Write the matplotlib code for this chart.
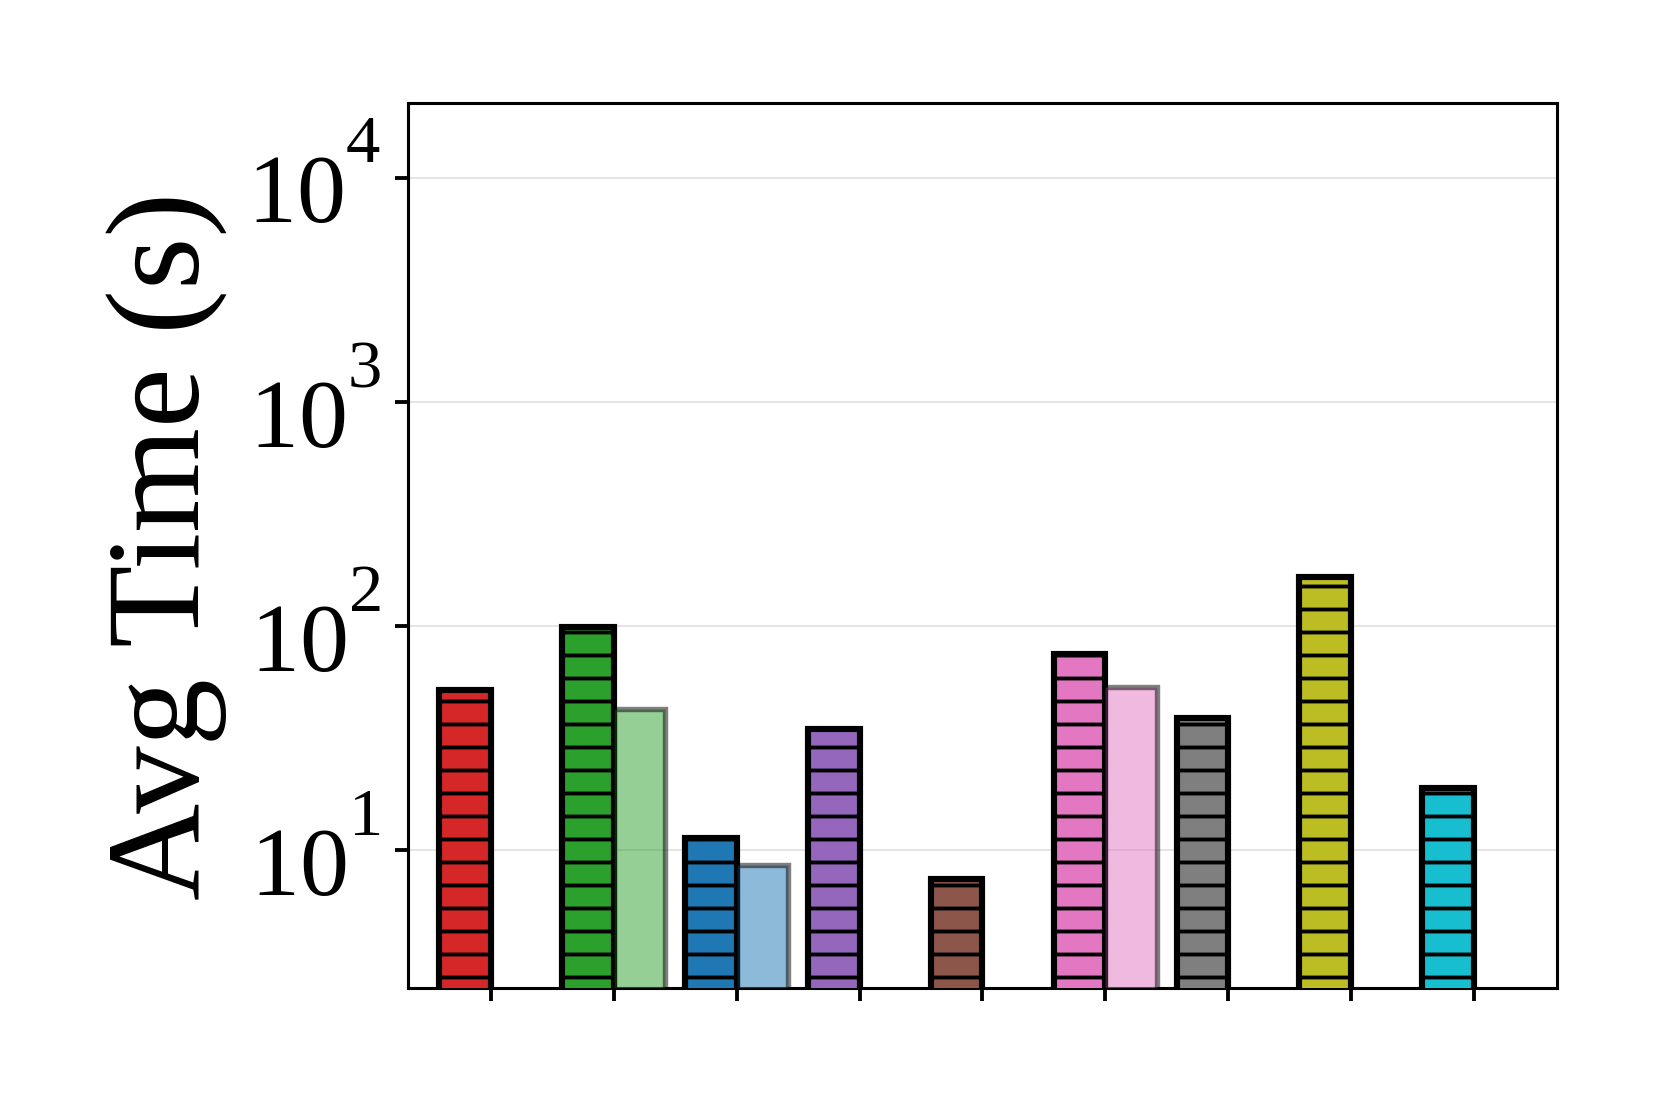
import matplotlib
matplotlib.use("Agg")
import matplotlib.pyplot as plt
from matplotlib import _mathtext
from matplotlib.ticker import NullLocator
import numpy as np

plt.rcParams['font.family'] = ['Liberation Serif', 'DejaVu Serif']
plt.rcParams['mathtext.fontset'] = 'custom'
plt.rcParams['mathtext.rm'] = 'Liberation Serif'
plt.rcParams['hatch.linewidth'] = 1.0
# raise the exponents like Times New Roman does (its pclt xHeight is large)
_mathtext.FontConstantsBase.sup1 = 1.33
_mathtext.FontConstantsBase.script_space = 0.1

# one hatched bar per method, some have a second (lighter) bar next to it
colors = ['tab:red', 'tab:green', 'tab:blue', 'tab:purple', 'tab:brown',
          'tab:pink', 'tab:gray', 'tab:olive', 'tab:cyan']
main_vals = [51.9, 99.5, 11.4, 34.8, 7.48, 75.2, 38.9, 166.6, 19.0]
second_idx = [1, 2, 5]
second_vals = [42.9, 8.63, 53.4]

w = 0.42
x = np.arange(len(main_vals))

fig = plt.figure(figsize=(6, 4), dpi=276.9)
ax = fig.add_axes([0.2456, 0.1074, 0.6918, 0.7993])

for i in range(len(main_vals)):
    ax.bar(x[i] - w / 2, main_vals[i], width=w, color=colors[i],
           edgecolor='black', linewidth=1.6, hatch='--', zorder=3)
for j, i in enumerate(second_idx):
    ax.bar(x[i] + w / 2, second_vals[j], width=w, color=colors[i],
           edgecolor='black', linewidth=1.4, alpha=0.5, zorder=3)

ax.set_yscale('log')
ax.set_ylim(2.43, 21770)
ax.set_xlim(-0.675, 8.68)
ax.yaxis.set_minor_locator(NullLocator())
ax.set_xticks(x)
ax.set_xticklabels([])
ax.tick_params(axis='y', labelsize=25.5, length=3.5, width=1)
ax.tick_params(axis='x', length=3.5, width=1)
ax.grid(axis='y', color='#dddddd', linewidth=0.4, zorder=0)
ax.set_ylabel('Avg Time (s)', fontsize=35, labelpad=5)

fig.savefig('out.png', dpi=276.9)
